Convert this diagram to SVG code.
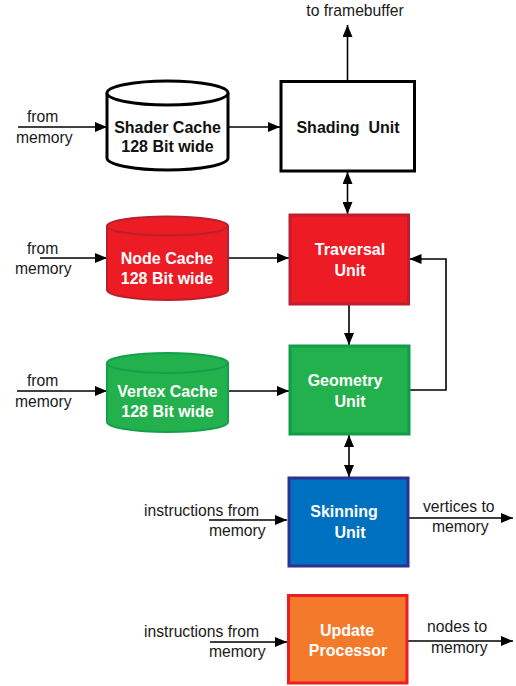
<svg xmlns="http://www.w3.org/2000/svg" width="516" height="686" viewBox="0 0 516 686">
<defs>
<marker id="ah" viewBox="0 0 12 10" refX="12" refY="5" markerWidth="12" markerHeight="10" markerUnits="userSpaceOnUse" orient="auto-start-reverse">
<path d="M0,0 L12,5 L0,10 Z" fill="#000"/>
</marker>
<style>
.lbl{font-family:"Liberation Sans",Arial,sans-serif;font-size:15.7px;fill:#1a1a1a}
.bt{font-family:"Liberation Sans",Arial,sans-serif;font-size:16px;font-weight:bold;text-anchor:middle}
.w{fill:#fff}
.k{fill:#111}
.ln{stroke:#000;stroke-width:1.6;fill:none}
</style>
</defs>
<rect width="516" height="686" fill="#fff"/>

<g id="connectors">
<line class="ln" x1="347.5" y1="80" x2="347.5" y2="25" marker-end="url(#ah)"/>
<line class="ln" x1="18" y1="127" x2="107" y2="127" marker-end="url(#ah)"/>
<line class="ln" x1="228" y1="127" x2="280" y2="127" marker-end="url(#ah)"/>
<line class="ln" x1="347.5" y1="172" x2="347.5" y2="214" marker-start="url(#ah)" marker-end="url(#ah)"/>
<line class="ln" x1="40" y1="258" x2="107" y2="258" marker-end="url(#ah)"/>
<line class="ln" x1="228" y1="258" x2="289" y2="258" marker-end="url(#ah)"/>
<line class="ln" x1="349" y1="305" x2="349" y2="345" marker-end="url(#ah)"/>
<line class="ln" x1="17" y1="391" x2="107" y2="391" marker-end="url(#ah)"/>
<line class="ln" x1="228" y1="391" x2="289" y2="391" marker-end="url(#ah)"/>
<path class="ln" d="M410,390 H446 V259 H409.5" marker-end="url(#ah)"/>
<line class="ln" x1="349" y1="435" x2="349" y2="477" marker-start="url(#ah)" marker-end="url(#ah)"/>
<line class="ln" x1="209" y1="520" x2="287" y2="520" marker-end="url(#ah)"/>
<line class="ln" x1="409" y1="518" x2="513" y2="518" marker-end="url(#ah)"/>
<line class="ln" x1="210" y1="642" x2="287" y2="642" marker-end="url(#ah)"/>
<line class="ln" x1="408" y1="641" x2="513" y2="641" marker-end="url(#ah)"/>
</g>

<g id="labels">
<text class="lbl" x="355" y="16" text-anchor="middle">to framebuffer</text>
<text class="lbl" x="27" y="122">from</text>
<text class="lbl" x="16" y="143">memory</text>
<text class="lbl" x="27" y="254">from</text>
<text class="lbl" x="15" y="274">memory</text>
<text class="lbl" x="27" y="386">from</text>
<text class="lbl" x="15" y="407">memory</text>
<text class="lbl" x="144" y="516">instructions from</text>
<text class="lbl" x="209" y="536">memory</text>
<text class="lbl" x="423" y="512">vertices to</text>
<text class="lbl" x="432" y="532">memory</text>
<text class="lbl" x="144" y="637">instructions from</text>
<text class="lbl" x="209" y="657">memory</text>
<text class="lbl" x="427" y="632">nodes to</text>
<text class="lbl" x="431" y="653">memory</text>
</g>

<g id="shader-cache">
<path d="M107,93 V158 A60.5,12 0 0 0 228,158 V93" fill="#fff" stroke="#000" stroke-width="3"/>
<ellipse cx="167.5" cy="93" rx="60.5" ry="12" fill="#fff" stroke="#000" stroke-width="3"/>
<text class="bt k" x="167.5" y="133">Shader Cache</text>
<text class="bt k" x="167.5" y="152">128 Bit wide</text>
</g>

<g id="shading-unit">
<rect x="281" y="81.5" width="133.5" height="89.5" fill="#fff" stroke="#000" stroke-width="3"/>
<text class="bt k" x="348" y="133" xml:space="preserve">Shading  Unit</text>
</g>

<g id="node-cache">
<path d="M107,226 V290 A60.5,10 0 0 0 228,290 V226" fill="#ED1C24" stroke="#B8202C" stroke-width="2"/>
<ellipse cx="167.5" cy="226" rx="60.5" ry="9.5" fill="#ED1C24" stroke="#B8202C" stroke-width="2"/>
<text class="bt w" x="167" y="264">Node Cache</text>
<text class="bt w" x="167" y="284">128 Bit wide</text>
</g>

<g id="traversal-unit">
<rect x="290" y="215" width="118.5" height="89" fill="#ED1C24" stroke="#BE1E2D" stroke-width="3"/>
<text class="bt w" x="350" y="255">Traversal</text>
<text class="bt w" x="350" y="276">Unit</text>
</g>

<g id="vertex-cache">
<path d="M107,363 V422 A60.5,10 0 0 0 228,422 V363" fill="#22B14C" stroke="#12A04A" stroke-width="2"/>
<ellipse cx="167.5" cy="363" rx="60.5" ry="10" fill="#22B14C" stroke="#12A04A" stroke-width="2"/>
<text class="bt w" x="167.5" y="397">Vertex Cache</text>
<text class="bt w" x="167.5" y="417">128 Bit wide</text>
</g>

<g id="geometry-unit">
<rect x="290" y="346" width="119" height="88" fill="#22B14C" stroke="#0E9E48" stroke-width="3"/>
<text class="bt w" x="345" y="386">Geometry</text>
<text class="bt w" x="350" y="407">Unit</text>
</g>

<g id="skinning-unit">
<rect x="289" y="478" width="119" height="88" fill="#0070C0" stroke="#2E3192" stroke-width="3"/>
<text class="bt w" x="344" y="517">Skinning</text>
<text class="bt w" x="350" y="538">Unit</text>
</g>

<g id="update-processor">
<rect x="288.5" y="595.5" width="118.5" height="87.5" fill="#F37A2A" stroke="#ED1C24" stroke-width="3"/>
<text class="bt w" x="347" y="636">Update</text>
<text class="bt w" x="348" y="656">Processor</text>
</g>
</svg>
